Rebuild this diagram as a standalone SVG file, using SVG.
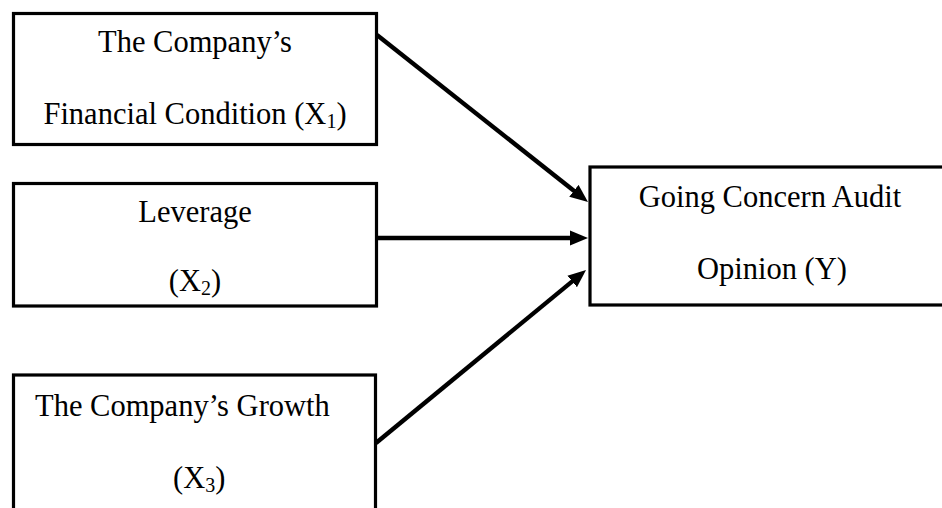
<svg xmlns="http://www.w3.org/2000/svg" width="942" height="508" viewBox="0 0 942 508">
<style>
.box{fill:#fff;stroke:#000;stroke-width:3.2}
.t{font-family:"Liberation Serif","Times New Roman",serif;font-size:30.5px;fill:#000}
.c{text-anchor:middle}
.sub{font-size:20px}
.conn{stroke:#000;stroke-width:4.4;fill:none;marker-end:url(#ah)}
</style>
<defs>
<marker id="ah" markerUnits="userSpaceOnUse" markerWidth="20" markerHeight="16" viewBox="0 -8 20 16" refX="6" refY="0" orient="auto">
<path d="M0,-7.5 L18,0 L0,7.5 z" fill="#000"/>
</marker>
</defs>
<rect width="942" height="508" fill="#fff"/>
<g id="connectors">
<line class="conn" x1="377" y1="35" x2="578.6" y2="194.5"/>
<line class="conn" x1="378" y1="238" x2="576" y2="238"/>
<line class="conn" x1="376" y1="443" x2="576.8" y2="277.6"/>
</g>
<g id="n1">
<rect class="box" x="13.5" y="13.5" width="363" height="131"/>
<text class="t c" x="195" y="52">The Company’s</text>
<text class="t c" x="195" y="124">Financial Condition (X<tspan class="sub" dy="4">1</tspan><tspan dy="-4">)</tspan></text>
</g>
<g id="n2">
<rect class="box" x="13.5" y="183.5" width="363" height="122.5"/>
<text class="t c" x="195" y="222">Leverage</text>
<text class="t c" x="195" y="291">(X<tspan class="sub" dy="4">2</tspan><tspan dy="-4">)</tspan></text>
</g>
<g id="n3">
<rect class="box" x="13.5" y="375" width="362" height="150"/>
<text class="t" x="35" y="416">The Company’s Growth</text>
<text class="t" x="173" y="488">(X<tspan class="sub" dy="4">3</tspan><tspan dy="-4">)</tspan></text>
</g>
<g id="n4">
<rect class="box" x="590" y="167" width="370" height="138"/>
<text class="t c" x="770" y="207">Going Concern Audit</text>
<text class="t c" x="772" y="279">Opinion (Y)</text>
</g>
</svg>
